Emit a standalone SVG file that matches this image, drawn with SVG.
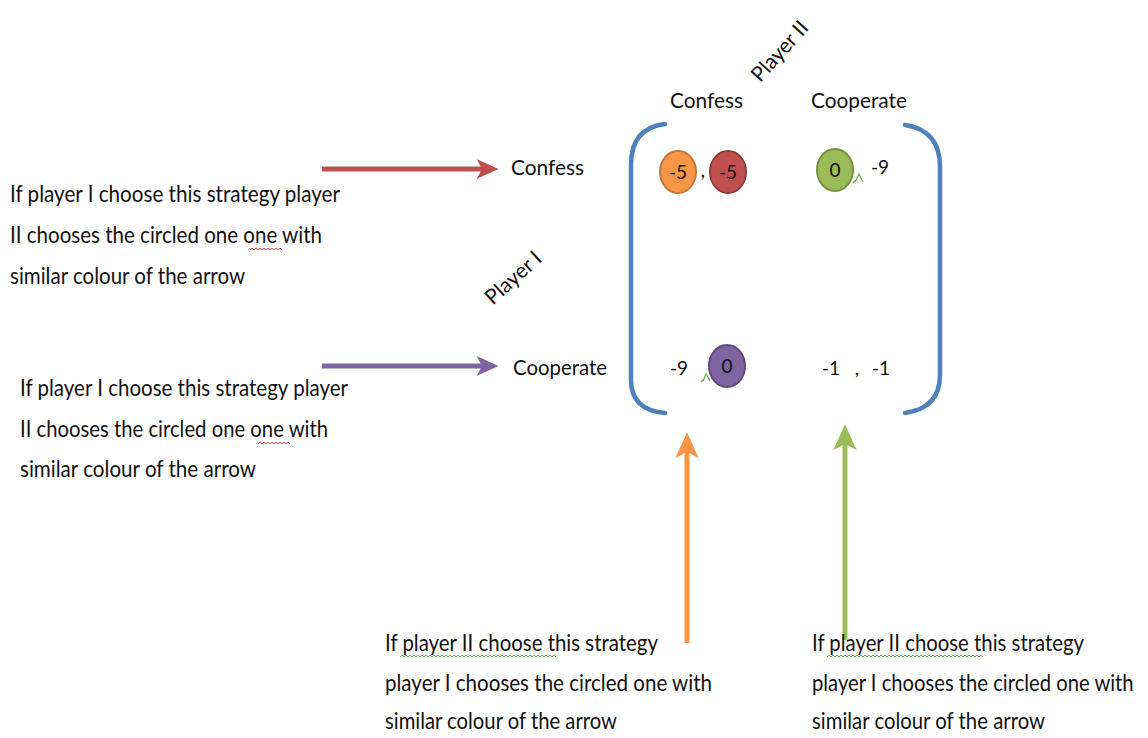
<svg xmlns="http://www.w3.org/2000/svg" width="1148" height="738" viewBox="0 0 1148 738">
<defs>
<style>
text{font-family:Lato,"Open Sans","Liberation Sans",sans-serif;fill:#111}
.note{font-size:23px}
.lbl{font-size:21px}
.num{font-size:19px;text-anchor:middle}
.br{fill:none;stroke:#4f81bd;stroke-width:4.5;stroke-linecap:round}
.wavy-r{fill:none;stroke:#d04040;stroke-width:1}
.wavy-g{fill:none;stroke:#6aa84f;stroke-width:1}
</style>
<marker id="hr" viewBox="0 0 20 20" refX="14" refY="10" markerWidth="22" markerHeight="22" markerUnits="userSpaceOnUse" orient="auto"><path d="M0,1 L20,10 L0,19 L5,10 Z" fill="#c0504d"/></marker>
<marker id="hp" viewBox="0 0 20 20" refX="14" refY="10" markerWidth="22" markerHeight="22" markerUnits="userSpaceOnUse" orient="auto"><path d="M0,1 L20,10 L0,19 L5,10 Z" fill="#8064a2"/></marker>
<marker id="ho" viewBox="0 0 20 20" refX="14" refY="10" markerWidth="26" markerHeight="26" markerUnits="userSpaceOnUse" orient="auto"><path d="M0,1 L20,10 L0,19 L5,10 Z" fill="#f79646"/></marker>
<marker id="hg" viewBox="0 0 20 20" refX="14" refY="10" markerWidth="26" markerHeight="26" markerUnits="userSpaceOnUse" orient="auto"><path d="M0,1 L20,10 L0,19 L5,10 Z" fill="#9bbb59"/></marker>
</defs>
<rect width="1148" height="738" fill="#fff"/>

<g id="connectors">
<line x1="322" y1="169" x2="492" y2="169" stroke="#c0504d" stroke-width="5" marker-end="url(#hr)"/>
<line x1="322" y1="366" x2="492" y2="366" stroke="#8064a2" stroke-width="5" marker-end="url(#hp)"/>
<line x1="687" y1="643" x2="687" y2="440" stroke="#f79646" stroke-width="5" marker-end="url(#ho)"/>
<line x1="845" y1="640" x2="845" y2="432" stroke="#9bbb59" stroke-width="5" marker-end="url(#hg)"/>
</g>

<g id="matrix">
<path class="br" d="M665,124 Q631,128 631,165 L631,380 Q631,410 665,413"/>
<path class="br" d="M905,125 Q940,130 940,167 L940,375 Q940,408 905,413"/>
</g>

<g id="player2-label">
<text class="lbl" font-size="19" text-anchor="middle" transform="translate(785,56) rotate(-48)">Player II</text>
</g>
<g id="player1-label">
<text class="lbl" font-size="19" text-anchor="middle" transform="translate(518,283) rotate(-42)">Player I</text>
</g>

<g id="col-confess"><text class="lbl" x="670" y="108" textLength="73" lengthAdjust="spacingAndGlyphs">Confess</text></g>
<g id="col-cooperate"><text class="lbl" x="811" y="108" textLength="96" lengthAdjust="spacingAndGlyphs">Cooperate</text></g>
<g id="row-confess"><text class="lbl" x="511" y="175" textLength="73" lengthAdjust="spacingAndGlyphs">Confess</text></g>
<g id="row-cooperate"><text class="lbl" x="513" y="375" textLength="94" lengthAdjust="spacingAndGlyphs">Cooperate</text></g>

<g id="cell-cc">
<ellipse cx="678" cy="172" rx="18" ry="21" fill="#f79646" stroke="#c87532" stroke-width="2"/>
<text class="num" x="678" y="179">-5</text>
<text class="num" x="703" y="177">,</text>
<ellipse cx="728" cy="172" rx="18" ry="21" fill="#c0504d" stroke="#923b39" stroke-width="2"/>
<text class="num" x="728" y="179">-5</text>
</g>
<g id="cell-cp">
<ellipse cx="835" cy="170" rx="18" ry="21" fill="#9bbb59" stroke="#76923f" stroke-width="2"/>
<text class="num" x="835" y="177">0</text>
<path d="M855,182 L859,174 L863,182 M857,179 L853,183" fill="none" stroke="#6aa84f" stroke-width="1.2"/>
<text class="num" x="880" y="174">-9</text>
</g>
<g id="cell-pc">
<text class="num" x="679" y="375">-9</text>
<path d="M703,381 L706,374 L710,381 M705,378 L701,382" fill="none" stroke="#6aa84f" stroke-width="1.2"/>
<ellipse cx="727" cy="366" rx="18" ry="21" fill="#8064a2" stroke="#5e4a7a" stroke-width="2"/>
<text class="num" x="727" y="373">0</text>
</g>
<g id="cell-pp">
<text class="num" x="831" y="375">-1</text>
<text class="num" x="857" y="375">,</text>
<text class="num" x="881" y="375">-1</text>
</g>

<g id="note-row1">
<text class="note" x="10" y="202" textLength="330" lengthAdjust="spacingAndGlyphs">If player I choose this strategy player</text>
<text class="note" x="10" y="243" textLength="312" lengthAdjust="spacingAndGlyphs">II chooses the circled one one with</text>
<text class="note" x="10" y="284" textLength="235" lengthAdjust="spacingAndGlyphs">similar colour of the arrow</text>
<path class="wavy-r" d="M250,250 l2,-2 l2,2 l2,-2 l2,2 l2,-2 l2,2 l2,-2 l2,2 l2,-2 l2,2 l2,-2 l2,2 l2,-2 l2,2 l2,-2 l2,2"/>
</g>
<g id="note-row2">
<text class="note" x="20" y="396" textLength="328" lengthAdjust="spacingAndGlyphs">If player I choose this strategy player</text>
<text class="note" x="20" y="437" textLength="308" lengthAdjust="spacingAndGlyphs">II chooses the circled one one with</text>
<text class="note" x="20" y="477" textLength="236" lengthAdjust="spacingAndGlyphs">similar  colour of the arrow</text>
<path class="wavy-r" d="M258,444 l2,-2 l2,2 l2,-2 l2,2 l2,-2 l2,2 l2,-2 l2,2 l2,-2 l2,2 l2,-2 l2,2 l2,-2 l2,2 l2,-2 l2,2"/>
</g>
<g id="note-col1">
<text class="note" x="385" y="651" textLength="273" lengthAdjust="spacingAndGlyphs">If player II choose this strategy</text>
<text class="note" x="385" y="691" textLength="327" lengthAdjust="spacingAndGlyphs">player I chooses the circled  one with</text>
<text class="note" x="385" y="729" textLength="232" lengthAdjust="spacingAndGlyphs">similar colour of the arrow</text>
<path class="wavy-g" d="M400,657 l2,-2 l2,2 l2,-2 l2,2 l2,-2 l2,2 l2,-2 l2,2 l2,-2 l2,2 l2,-2 l2,2 l2,-2 l2,2 l2,-2 l2,2 l2,-2 l2,2 l2,-2 l2,2 l2,-2 l2,2 l2,-2 l2,2 l2,-2 l2,2 l2,-2 l2,2 l2,-2 l2,2 l2,-2 l2,2 l2,-2 l2,2 l2,-2 l2,2 l2,-2 l2,2 l2,-2 l2,2 l2,-2 l2,2 l2,-2 l2,2 l2,-2 l2,2 l2,-2 l2,2 l2,-2 l2,2 l2,-2 l2,2 l2,-2 l2,2 l2,-2 l2,2 l2,-2 l2,2 l2,-2 l2,2 l2,-2 l2,2 l2,-2 l2,2 l2,-2 l2,2 l2,-2 l2,2 l2,-2 l2,2 l2,-2 l2,2 l2,-2 l2,2 l2,-2 l2,2 l2,-2 l2,2"/>
</g>
<g id="note-col2">
<text class="note" x="812" y="651" textLength="272" lengthAdjust="spacingAndGlyphs">If player II choose this strategy</text>
<text class="note" transform="translate(812,691) scale(0.86,1)" x="0" y="0" textLength="374" lengthAdjust="spacingAndGlyphs">player I chooses the circled  one with</text>
<text class="note" x="812" y="729" textLength="233" lengthAdjust="spacingAndGlyphs">similar colour of the arrow</text>
<path class="wavy-g" d="M827,657 l2,-2 l2,2 l2,-2 l2,2 l2,-2 l2,2 l2,-2 l2,2 l2,-2 l2,2 l2,-2 l2,2 l2,-2 l2,2 l2,-2 l2,2 l2,-2 l2,2 l2,-2 l2,2 l2,-2 l2,2 l2,-2 l2,2 l2,-2 l2,2 l2,-2 l2,2 l2,-2 l2,2 l2,-2 l2,2 l2,-2 l2,2 l2,-2 l2,2 l2,-2 l2,2 l2,-2 l2,2 l2,-2 l2,2 l2,-2 l2,2 l2,-2 l2,2 l2,-2 l2,2 l2,-2 l2,2 l2,-2 l2,2 l2,-2 l2,2 l2,-2 l2,2 l2,-2 l2,2 l2,-2 l2,2 l2,-2 l2,2 l2,-2 l2,2 l2,-2 l2,2 l2,-2 l2,2 l2,-2 l2,2 l2,-2 l2,2 l2,-2 l2,2 l2,-2 l2,2 l2,-2 l2,2"/>
</g>
</svg>
